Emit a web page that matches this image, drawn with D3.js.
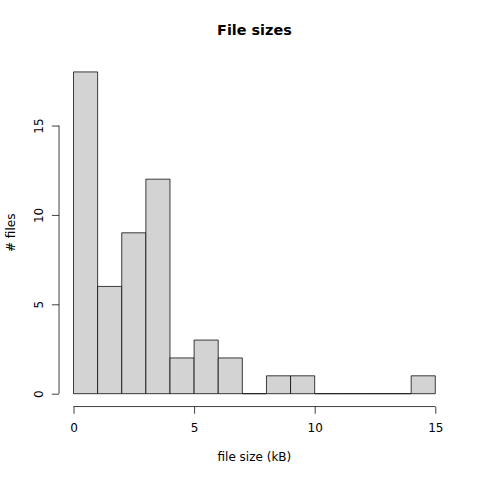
<!DOCTYPE html>
<html><head><meta charset="utf-8">
<script src="https://cdn.jsdelivr.net/npm/d3@7"></script>
<style>body{margin:0;background:#fff}</style>
</head><body>
<script>
const binStarts = [0,1,2,3,4,5,6,7,8,9,10,11,12,13,14];
const counts = [18,6,9,12,2,3,2,0,1,1,0,0,0,0,1];
const xTicks = [0,5,10,15];
const yTicks = [0,5,10,15];
const title = "File sizes";
const xLabel = "file size (kB)";
const yLabel = "# files";

const W=480,H=480;
const plot={l:59.04,r:449.76,t:59.04,b:406.56};
const x=d3.scaleLinear().domain([-0.6,15.6]).range([plot.l,plot.r]);
const y=d3.scaleLinear().domain([-0.72,18.72]).range([plot.b,plot.t]);
const font="DejaVu Sans, sans-serif";
const svg=d3.select("body").append("svg").attr("width",W).attr("height",H);

svg.append("g").selectAll("path").data(binStarts).join("path")
 .attr("d",(d,i)=>{const x0=x(d),x1=x(d+1),y0=y(0),y1=y(counts[i]);
   return `M${x0},${y0}H${x1}V${y1}H${x0}Z`;})
 .attr("fill","#d3d3d3").attr("stroke","#000").attr("stroke-width",0.75);

// x axis
const xa=svg.append("g").attr("transform",`translate(0,${plot.b})`)
 .call(d3.axisBottom(x).tickValues(xTicks).tickSize(7.2).tickSizeOuter(0).tickFormat(d3.format("d")));
xa.select(".domain").attr("d",`M${x(0)},0H${x(15)}`);
xa.selectAll("line,path").attr("stroke","#000").attr("stroke-width",0.75);
xa.selectAll("text").attr("y",null).attr("dy",null).attr("transform",null)
 .attr("y",432-plot.b).attr("font-family",font).attr("font-size",12).attr("fill","#000");

// y axis
const ya=svg.append("g").attr("transform",`translate(${plot.l},0)`)
 .call(d3.axisLeft(y).tickValues(yTicks).tickSize(7.2).tickSizeOuter(0).tickFormat(d3.format("d")));
ya.select(".domain").attr("d",`M0,${y(0)}V${y(15)}`);
ya.selectAll("line,path").attr("stroke","#000").attr("stroke-width",0.75);
ya.selectAll("text").attr("x",null).attr("dy",null)
 .attr("transform",`translate(${43-plot.l},0) rotate(-90)`).attr("x",0).attr("y",0)
 .attr("text-anchor","middle").attr("font-family",font).attr("font-size",12).attr("fill","#000");

svg.append("text").attr("x",(plot.l+plot.r)/2).attr("y",35).attr("text-anchor","middle")
 .attr("font-family",font).attr("font-weight","bold").attr("font-size",14.4).text(title);
svg.append("text").attr("x",(plot.l+plot.r)/2).attr("y",461).attr("text-anchor","middle")
 .attr("font-family",font).attr("font-size",12).text(xLabel);
svg.append("text").attr("transform",`translate(15,${(plot.t+plot.b)/2}) rotate(-90)`).attr("text-anchor","middle")
 .attr("font-family",font).attr("font-size",12).text(yLabel);
</script>
</body></html>
